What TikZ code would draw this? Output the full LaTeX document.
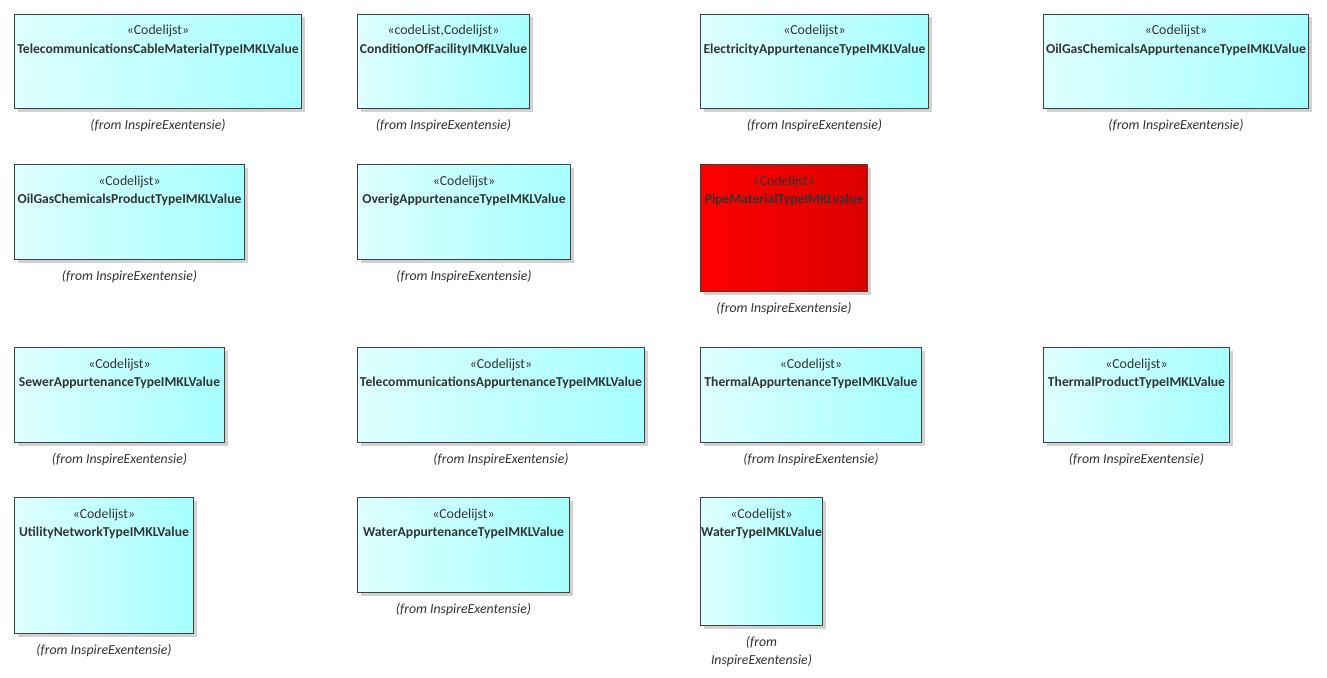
\documentclass[tikz,border=0pt]{standalone}
\usepackage{fontspec}
\setmainfont{Carlito}
\usetikzlibrary{shadows}
\definecolor{cyanlight}{HTML}{DEFFFF}
\definecolor{cyandark}{HTML}{A6FFFF}
\definecolor{redlight}{HTML}{FF0000}
\definecolor{reddark}{HTML}{DC0000}
\definecolor{edgegray}{HTML}{404040}
\definecolor{textgray}{HTML}{333333}
\tikzset{
 box/.style={draw=edgegray, line width=1pt, anchor=north west, inner sep=0pt,
  drop shadow={shadow xshift=3pt, shadow yshift=-3pt, fill=black!18, opacity=1}},
 cyanbox/.style={box, left color=cyanlight, right color=cyandark},
 redbox/.style={box, left color=redlight, right color=reddark},
 stereo/.style={anchor=base, inner sep=0pt, text=textgray, font=\fontsize{13.8}{16}\selectfont},
 title/.style={anchor=base, inner sep=0pt, text=textgray, font=\fontsize{13.6}{16}\selectfont\bfseries},
 from/.style={anchor=north, inner sep=0pt, align=center, text=textgray, font=\fontsize{13.8}{18}\selectfont\itshape}
}
\begin{document}
\begin{tikzpicture}[x=1pt,y=-1pt]
\fill[white](0,0) rectangle (1327,677);
\useasboundingbox (0,0) rectangle (1327,677);
\foreach \n/\x/\y/\w/\h/\s/\st/\t/\f in {
 1/14/14/287/94/cyanbox/{«Codelijst»}/TelecommunicationsCableMaterialTypeIMKLValue/{(from InspireExentensie)},
 2/357/14/172/94/cyanbox/{«codeList,Codelijst»}/ConditionOfFacilityIMKLValue/{(from InspireExentensie)},
 3/700/14/228/94/cyanbox/{«Codelijst»}/ElectricityAppurtenanceTypeIMKLValue/{(from InspireExentensie)},
 4/1043/14/265/94/cyanbox/{«Codelijst»}/OilGasChemicalsAppurtenanceTypeIMKLValue/{(from InspireExentensie)},
 5/14/164/230/95/cyanbox/{«Codelijst»}/OilGasChemicalsProductTypeIMKLValue/{(from InspireExentensie)},
 6/357/164/213/95/cyanbox/{«Codelijst»}/OverigAppurtenanceTypeIMKLValue/{(from InspireExentensie)},
 7/700/164/167/127/redbox/{«Codelijst»}/PipeMaterialTypeIMKLvalue/{(from InspireExentensie)},
 8/14/347/210/95/cyanbox/{«Codelijst»}/SewerAppurtenanceTypeIMKLValue/{(from InspireExentensie)},
 9/357/347/287/95/cyanbox/{«Codelijst»}/TelecommunicationsAppurtenanceTypeIMKLValue/{(from InspireExentensie)},
 10/700/347/221/95/cyanbox/{«Codelijst»}/ThermalAppurtenanceTypeIMKLValue/{(from InspireExentensie)},
 11/1043/347/186/95/cyanbox/{«Codelijst»}/ThermalProductTypeIMKLValue/{(from InspireExentensie)},
 12/14/497/179/136/cyanbox/{«Codelijst»}/UtilityNetworkTypeIMKLValue/{(from InspireExentensie)},
 13/357/497/212/95/cyanbox/{«Codelijst»}/WaterAppurtenanceTypeIMKLValue/{(from InspireExentensie)},
 14/700/497/122/128/cyanbox/{«Codelijst»}/WaterTypeIMKLValue/{(from\\InspireExentensie)}}{
 \node[\s, minimum width=\w pt, minimum height=\h pt] (b\n) at (\x,\y) {};
 \node[stereo, yshift=-21pt] (s\n) at (b\n.north) {\st};
 \node[title, yshift=-39pt] (t\n) at (b\n.north) {\t};
 \node[from, yshift=-10pt] (f\n) at (b\n.south) {\f};
}
\end{tikzpicture}
\end{document}
